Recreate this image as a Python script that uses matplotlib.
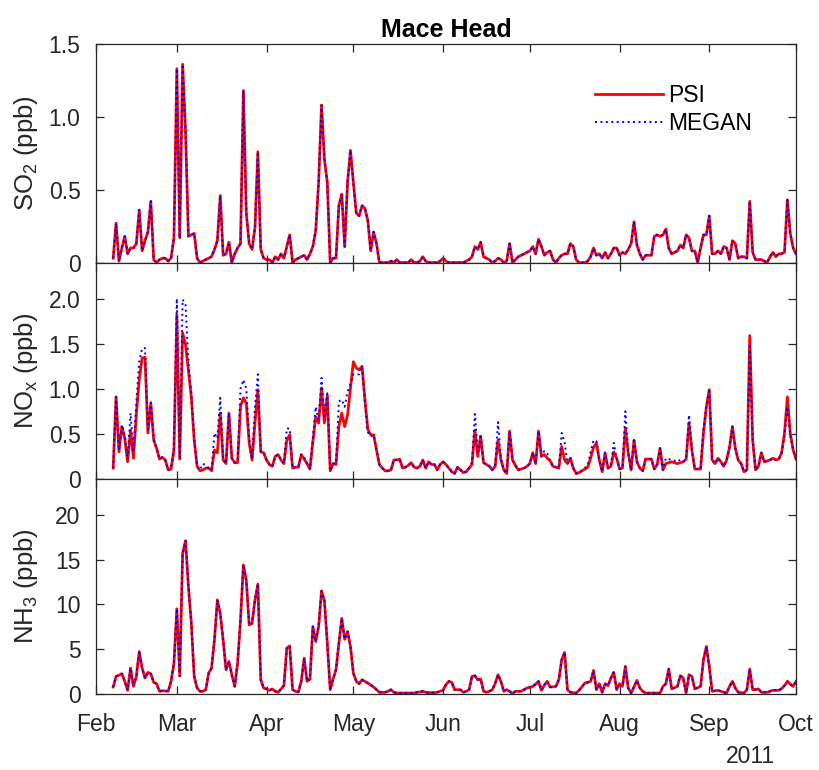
import matplotlib
matplotlib.use('Agg')
import matplotlib.pyplot as plt
import matplotlib.dates as mdates
import pandas as pd

plt.rcParams['font.family'] = ['Liberation Sans', 'DejaVu Sans']
plt.rcParams['mathtext.fontset'] = 'custom'
plt.rcParams['mathtext.rm'] = 'Liberation Sans'
plt.rcParams['mathtext.it'] = 'Liberation Sans:italic'

###
# Data: daily values, 7 Feb - 1 Oct 2011

start_day = '2011-02-07'

psi_so2 = [
    0.03, 0.27, 0.01, 0.10, 0.18, 0.06, 0.10, 0.10, 0.13, 0.36,
    0.08, 0.15, 0.21, 0.42, 0.02, 0.00, 0.02, 0.03, 0.03, 0.01,
    0.03, 0.17, 1.33, 0.17, 1.36, 0.90, 0.18, 0.19, 0.20, 0.03,
    0.00, 0.01, 0.02, 0.03, 0.04, 0.09, 0.15, 0.46, 0.05, 0.06,
    0.14, 0.00, 0.06, 0.10, 0.13, 1.18, 0.34, 0.13, 0.09, 0.24,
    0.76, 0.09, 0.03, 0.02, 0.02, 0.00, 0.04, 0.02, 0.06, 0.03,
    0.11, 0.19, 0.00, 0.02, 0.03, 0.04, 0.05, 0.02, 0.06, 0.11,
    0.22, 0.55, 1.08, 0.71, 0.55, 0.00, 0.03, 0.03, 0.39, 0.47,
    0.11, 0.55, 0.77, 0.55, 0.34, 0.32, 0.39, 0.37, 0.29, 0.08,
    0.21, 0.13, 0.00, 0.00, 0.00, 0.00, 0.01, 0.00, 0.02, 0.00,
    0.00, 0.00, 0.00, 0.02, 0.00, 0.00, 0.01, 0.04, 0.01, 0.00,
    0.00, 0.00, 0.00, 0.01, 0.03, 0.01, 0.00, 0.00, 0.00, 0.00,
    0.00, 0.00, 0.01, 0.02, 0.04, 0.11, 0.09, 0.14, 0.04, 0.03,
    0.02, 0.00, 0.01, 0.03, 0.02, 0.00, 0.01, 0.13, 0.00, 0.02,
    0.04, 0.05, 0.06, 0.07, 0.08, 0.11, 0.06, 0.16, 0.11, 0.05,
    0.07, 0.08, 0.02, 0.00, 0.03, 0.05, 0.06, 0.06, 0.13, 0.11,
    0.02, 0.00, 0.00, 0.00, 0.01, 0.04, 0.10, 0.05, 0.06, 0.03,
    0.07, 0.03, 0.06, 0.10, 0.10, 0.05, 0.07, 0.06, 0.09, 0.13,
    0.28, 0.12, 0.06, 0.02, 0.05, 0.05, 0.05, 0.18, 0.19, 0.18,
    0.19, 0.23, 0.10, 0.06, 0.07, 0.08, 0.12, 0.10, 0.19, 0.17,
    0.08, 0.08, 0.00, 0.10, 0.19, 0.19, 0.32, 0.06, 0.06, 0.08,
    0.06, 0.11, 0.10, 0.02, 0.15, 0.13, 0.03, 0.04, 0.04, 0.03,
    0.42, 0.07, 0.02, 0.02, 0.02, 0.01, 0.00, 0.04, 0.07, 0.04,
    0.06, 0.06, 0.07, 0.43, 0.20, 0.10, 0.06,
]
megan_so2 = list(psi_so2)  # indistinguishable from PSI in the figure

psi_nox = [
    0.12, 0.91, 0.30, 0.58, 0.45, 0.19, 0.54, 0.23, 0.71, 1.10,
    1.34, 1.35, 0.51, 0.84, 0.43, 0.34, 0.22, 0.24, 0.21, 0.10,
    0.11, 0.32, 1.82, 0.22, 1.62, 1.49, 1.20, 0.91, 0.43, 0.14,
    0.09, 0.10, 0.12, 0.12, 0.09, 0.32, 0.29, 0.73, 0.21, 0.17,
    0.73, 0.23, 0.18, 0.18, 0.80, 0.90, 0.84, 0.40, 0.21, 0.62,
    0.99, 0.30, 0.29, 0.21, 0.16, 0.14, 0.25, 0.27, 0.21, 0.17,
    0.43, 0.49, 0.12, 0.13, 0.13, 0.27, 0.22, 0.17, 0.11, 0.41,
    0.69, 0.62, 1.01, 0.62, 0.93, 0.09, 0.17, 0.16, 0.58, 0.73,
    0.58, 0.71, 1.00, 1.30, 1.23, 1.21, 1.25, 0.88, 0.55, 0.49,
    0.49, 0.32, 0.16, 0.12, 0.09, 0.09, 0.10, 0.21, 0.21, 0.22,
    0.12, 0.13, 0.15, 0.18, 0.13, 0.12, 0.14, 0.21, 0.12, 0.19,
    0.16, 0.16, 0.10, 0.16, 0.19, 0.16, 0.12, 0.08, 0.06, 0.13,
    0.10, 0.07, 0.08, 0.12, 0.16, 0.54, 0.25, 0.47, 0.18, 0.16,
    0.14, 0.10, 0.14, 0.43, 0.21, 0.10, 0.06, 0.53, 0.21, 0.15,
    0.10, 0.11, 0.12, 0.14, 0.17, 0.29, 0.17, 0.53, 0.25, 0.27,
    0.23, 0.20, 0.14, 0.13, 0.12, 0.36, 0.21, 0.17, 0.23, 0.12,
    0.06, 0.07, 0.09, 0.11, 0.13, 0.23, 0.35, 0.40, 0.21, 0.08,
    0.29, 0.12, 0.14, 0.30, 0.23, 0.11, 0.12, 0.56, 0.29, 0.10,
    0.43, 0.19, 0.12, 0.09, 0.22, 0.22, 0.22, 0.11, 0.16, 0.34,
    0.10, 0.17, 0.18, 0.19, 0.18, 0.17, 0.18, 0.19, 0.22, 0.62,
    0.32, 0.11, 0.11, 0.11, 0.51, 0.80, 0.99, 0.21, 0.17, 0.23,
    0.19, 0.14, 0.21, 0.35, 0.58, 0.34, 0.21, 0.17, 0.08, 0.10,
    1.59, 0.43, 0.10, 0.14, 0.29, 0.19, 0.20, 0.21, 0.23, 0.21,
    0.22, 0.29, 0.51, 0.91, 0.51, 0.32, 0.22,
]

megan_nox = [
    0.12, 0.91, 0.32, 0.60, 0.48, 0.22, 0.73, 0.30, 0.85, 1.30,
    1.45, 1.45, 0.55, 0.85, 0.45, 0.34, 0.22, 0.24, 0.21, 0.10,
    0.11, 0.35, 2.00, 0.24, 1.99, 1.93, 1.30, 0.95, 0.45, 0.14,
    0.10, 0.17, 0.15, 0.12, 0.10, 0.51, 0.45, 0.90, 0.22, 0.17,
    0.73, 0.23, 0.18, 0.20, 1.00, 1.10, 1.00, 0.45, 0.22, 0.80,
    1.16, 0.30, 0.29, 0.21, 0.16, 0.14, 0.25, 0.27, 0.21, 0.17,
    0.56, 0.56, 0.12, 0.13, 0.13, 0.27, 0.24, 0.17, 0.11, 0.45,
    0.80, 0.65, 1.12, 0.70, 0.95, 0.09, 0.17, 0.17, 0.86, 0.88,
    0.80, 0.97, 1.05, 1.16, 1.16, 1.16, 1.25, 0.85, 0.52, 0.47,
    0.49, 0.32, 0.16, 0.12, 0.09, 0.09, 0.10, 0.21, 0.21, 0.22,
    0.12, 0.13, 0.15, 0.18, 0.13, 0.12, 0.14, 0.21, 0.12, 0.19,
    0.16, 0.16, 0.10, 0.16, 0.19, 0.16, 0.12, 0.08, 0.06, 0.13,
    0.10, 0.07, 0.08, 0.12, 0.18, 0.72, 0.30, 0.50, 0.18, 0.16,
    0.14, 0.10, 0.14, 0.63, 0.23, 0.10, 0.06, 0.53, 0.21, 0.15,
    0.10, 0.11, 0.12, 0.14, 0.17, 0.29, 0.17, 0.53, 0.25, 0.31,
    0.28, 0.20, 0.14, 0.13, 0.12, 0.51, 0.41, 0.17, 0.23, 0.12,
    0.06, 0.07, 0.09, 0.12, 0.15, 0.30, 0.43, 0.42, 0.21, 0.08,
    0.29, 0.12, 0.14, 0.40, 0.23, 0.11, 0.12, 0.75, 0.29, 0.10,
    0.45, 0.19, 0.12, 0.09, 0.22, 0.22, 0.22, 0.11, 0.16, 0.34,
    0.10, 0.23, 0.22, 0.21, 0.20, 0.22, 0.20, 0.19, 0.22, 0.71,
    0.32, 0.11, 0.11, 0.11, 0.55, 0.80, 1.00, 0.21, 0.17, 0.23,
    0.19, 0.14, 0.21, 0.35, 0.58, 0.34, 0.21, 0.17, 0.08, 0.10,
    1.47, 0.43, 0.10, 0.14, 0.29, 0.19, 0.20, 0.21, 0.23, 0.21,
    0.22, 0.29, 0.48, 0.80, 0.48, 0.32, 0.22,
]

psi_nh3 = [
    0.78, 1.96, 2.10, 2.26, 1.41, 0.41, 2.89, 0.85, 1.96, 4.74,
    2.89, 1.78, 2.41, 2.26, 1.30, 1.15, 0.30, 0.37, 0.33, 0.30,
    1.41, 3.44, 9.50, 2.00, 15.7, 17.1, 12.0, 7.90, 1.96, 0.67,
    0.30, 0.30, 0.48, 2.33, 2.89, 6.04, 10.5, 9.00, 6.04, 2.70,
    3.63, 2.15, 0.85, 3.44, 8.26, 14.4, 12.7, 7.70, 7.89, 10.5,
    12.26, 1.59, 0.67, 0.56, 0.41, 0.56, 0.30, 0.19, 0.56, 0.93,
    5.11, 5.37, 0.48, 0.30, 0.22, 1.41, 4.00, 1.41, 1.67, 7.52,
    5.85, 7.52, 11.5, 10.4, 5.67, 0.48, 1.67, 2.70, 5.67, 8.44,
    6.11, 6.96, 5.30, 2.33, 1.41, 1.15, 1.59, 1.41, 1.22, 1.00,
    0.78, 0.48, 0.19, 0.19, 0.19, 0.30, 0.48, 0.19, 0.11, 0.11,
    0.10, 0.10, 0.10, 0.11, 0.11, 0.19, 0.22, 0.30, 0.19, 0.15,
    0.15, 0.15, 0.19, 0.30, 0.41, 1.04, 1.41, 1.30, 0.48, 0.48,
    0.48, 0.19, 0.30, 0.48, 1.96, 2.04, 1.59, 1.67, 0.30, 0.19,
    0.30, 0.48, 1.15, 2.15, 1.41, 0.30, 0.48, 0.30, 0.04, 0.30,
    0.30, 0.30, 0.48, 0.67, 0.75, 0.85, 1.10, 1.41, 0.41, 1.00,
    1.41, 0.78, 0.80, 0.85, 1.59, 3.81, 4.63, 0.48, 0.19, 0.15,
    0.11, 0.41, 0.80, 1.22, 1.30, 1.41, 2.63, 0.48, 1.15, 0.19,
    1.15, 0.93, 1.78, 2.41, 0.48, 1.15, 0.85, 3.07, 0.67, 0.11,
    0.80, 1.52, 0.67, 0.30, 0.11, 0.11, 0.11, 0.11, 0.11, 0.11,
    0.85, 1.15, 2.78, 0.56, 0.70, 0.85, 2.04, 1.78, 0.11, 2.15,
    1.96, 0.56, 0.70, 0.85, 3.81, 5.30, 3.07, 0.30, 0.35, 0.41,
    0.30, 0.20, 0.11, 0.85, 1.41, 0.67, 0.19, 0.15, 0.11, 0.48,
    2.78, 0.48, 0.50, 0.56, 0.19, 0.19, 0.19, 0.30, 0.41, 0.41,
    0.41, 0.60, 0.93, 1.41, 1.10, 0.85, 1.41,
]
megan_nh3 = list(psi_nh3)  # indistinguishable from PSI in the figure

panels = [
    ('SO$_2$ (ppb)', psi_so2, megan_so2, 1.5, [0, 0.5, 1.0, 1.5], ['0', '0.5', '1.0', '1.5']),
    ('NO$_\\mathrm{x}$ (ppb)', psi_nox, megan_nox, 2.4, [0, 0.5, 1.0, 1.5, 2.0], ['0', '0.5', '1.0', '1.5', '2.0']),
    ('NH$_3$ (ppb)', psi_nh3, megan_nh3, 24, [0, 5, 10, 15, 20], ['0', '5', '10', '15', '20']),
]

###
# Plot

axis_col = '#262626'
fig = plt.figure(figsize=(8.19, 7.7), dpi=100)
left, width = 0.117, 0.855
bottoms = [0.659, 0.378, 0.0987]
heights = [0.284, 0.281, 0.2793]

axes = []
for i, (ylab, psi, megan, ytop, yt, ytl) in enumerate(panels):
    ax = fig.add_axes([left, bottoms[i], width, heights[i]])
    d_psi = pd.date_range(start_day, periods=len(psi))
    d_meg = pd.date_range(start_day, periods=len(megan))
    ax.plot(d_psi, psi, color='red', lw=2.0, label='PSI')
    ax.plot(d_meg, megan, color='blue', lw=1.4, ls=(0, (1, 1.8)), label='MEGAN')
    ax.set_xlim(pd.Timestamp('2011-02-01'), pd.Timestamp('2011-10-01'))
    ax.set_ylim(0, ytop)
    ax.set_yticks(yt)
    ax.set_yticklabels(ytl)
    ax.set_ylabel(ylab, fontsize=18.5, color=axis_col)
    ax.yaxis.set_label_coords(-0.08, 0.5)
    ax.xaxis.set_major_locator(mdates.MonthLocator())
    ax.xaxis.set_major_formatter(mdates.DateFormatter('%b'))
    ax.tick_params(direction='in', length=6, width=0.9, colors=axis_col,
                   labelsize=16.5, top=True, right=True)
    ax.tick_params(axis='y', pad=11)
    ax.tick_params(axis='x', pad=14)
    for s in ax.spines.values():
        s.set_color(axis_col)
        s.set_linewidth(0.9)
    if i < 2:
        ax.tick_params(labelbottom=False)
    axes.append(ax)

axes[0].set_title('Mace Head', fontsize=18, fontweight='bold', pad=5)
axes[0].legend(loc='center', bbox_to_anchor=(0.825, 0.70), frameon=False,
               fontsize=16.5, handlelength=2.95, labelspacing=0.2, handletextpad=0.25)
fig.text(0.916, 0.018, '2011', fontsize=16.5, color=axis_col, ha='center', va='center')

fig.savefig('out.png', dpi=100)
